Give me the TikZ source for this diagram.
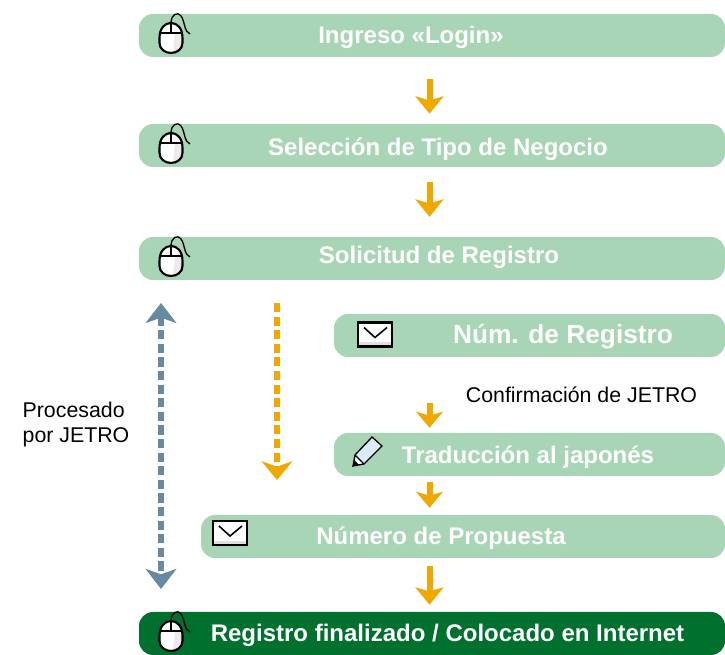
\documentclass[tikz,border=0pt]{standalone}
\usepackage{fontspec}
\setmainfont{Liberation Sans}
\usetikzlibrary{arrows.meta}

\definecolor{barGreen}{HTML}{A8D5B5}
\definecolor{barDark}{HTML}{00702E}
\definecolor{arrowOrange}{HTML}{F0A800}
\definecolor{arrowBlue}{HTML}{6789A1}
\definecolor{pencilBlue}{HTML}{DCEBFA}

\tikzset{
    bar/.style={fill=barGreen, rounded corners=10.5pt, minimum height=32.25pt, inner sep=0pt, minimum width=#1*0.75pt},
    barlabel/.style={text=white, font=\fontsize{18}{21}\selectfont\bfseries, inner sep=0pt},
    note/.style={font=\fontsize{16}{19}\selectfont, inner sep=0pt, align=left},
    flow/.style={arrowOrange, line width=4.5pt, -{Stealth[length=13pt, width=21pt, inset=3pt]}},
    flowsmall/.style={arrowOrange, line width=4.5pt, -{Stealth[length=12pt, width=20pt, inset=3pt]}},
    longflow/.style={line width=4.5pt, dash pattern=on 6.8pt off 3.4pt},
    mouseicon/.pic={
        \fill[white] (-11.5,0) .. controls (-11.5,-10) and (-6,-15) .. (0,-15) .. controls (6,-15) and (11.5,-10) .. (11.5,0)
            -- (11.5,5) .. controls (11.5,11) and (6,15) .. (0,15) .. controls (-6,15) and (-11.5,11) .. (-11.5,5) -- cycle;
        \fill[black!8] (4,-5) -- (11.5,-5) -- (11.5,5) .. controls (11.5,11) and (6,15) .. (2,14.5) -- cycle;
        \draw[black, line width=1.6pt] (-11.5,0) .. controls (-11.5,-10) and (-6,-15) .. (0,-15) .. controls (6,-15) and (11.5,-10) .. (11.5,0)
            -- (11.5,5) .. controls (11.5,11) and (6,15) .. (0,15) .. controls (-6,15) and (-11.5,11) .. (-11.5,5) -- cycle;
        \draw[black, line width=1.3pt] (-11.5,-5) -- (11.5,-5) (0,-15) -- (0,-5);
        % Wire
        \draw[black, line width=1pt] (0,-15) .. controls (0,-23) and (6,-27) .. (10,-22) .. controls (14,-17) and (13,-6) .. (19,-4);
    },
    envelopeicon/.pic={
        \fill[white] (-17,-12) rectangle (17,12);
        \fill[black!12] (-17,8) rectangle (17,12);
        \draw[black, line width=1.6pt] (-17,-12) rectangle (17,12);
        \draw[black, line width=1.2pt] (-11,-7) -- (0,3) -- (12,-7);
    },
    pencilicon/.pic={
        \fill[white] (0,0) -- (2,-11) -- (13,-5) -- (11,-2) -- cycle;
        \fill[pencilBlue] (2,-11) -- (19,-29) -- (29,-20) -- (11,-2) -- cycle;
        \fill[black] (0,0) -- (1,-6) -- (6,-1) -- cycle;
        \draw[black, line width=1pt] (0,0) -- (2,-11) -- (19,-29) -- (29,-20) -- (11,-2) -- cycle (2,-11) -- (11,-2);
    },
}

\begin{document}
\begin{tikzpicture}[x=0.75pt, y=-0.75pt]
    \useasboundingbox (0,0) rectangle (725,655);
    % Bars
    \node[bar=586] (login) at (432,35.5) {};
    \node[bar=586] (negocio) at (432,145.5) {};
    \node[bar=586] (solicitud) at (432,258.5) {};
    \node[bar=391] (numreg) at (529.5,335.5) {};
    \node[bar=391] (traduccion) at (529.5,454.5) {};
    \node[bar=524] (propuesta) at (463,536.5) {};
    \node[bar=586, fill=barDark] (final) at (432,633.5) {};
    % Bar labels
    \node[barlabel] (loginText) at (411,37) {Ingreso «Login»};
    \node[barlabel] (negocioText) at (438,149.5) {Selección de Tipo de Negocio};
    \node[barlabel] (solicitudText) at (439,257.5) {Solicitud de Registro};
    \node[barlabel, font=\fontsize{19.7}{23}\selectfont\bfseries] (numregText) at (563,337) {Núm. de Registro};
    \node[barlabel] (traduccionText) at (528,457) {Traducción al japonés};
    \node[barlabel] (propuestaText) at (441,538) {Número de Propuesta};
    \node[barlabel] (finalText) at (447.5,635) {Registro finalizado / Colocado en Internet};
    % Notes
    \node[note] (confirmacion) at (581.5,395) {Confirmación de JETRO};
    \node[note] (procesado) at (76,424.5) {Procesado\\por JETRO};
    % Icons
    \pic at (171,38) {mouseicon};
    \pic at (171,148) {mouseicon};
    \pic at (171,261) {mouseicon};
    \pic at (171,636) {mouseicon};
    \pic at (375,334.5) {envelopeicon};
    \pic at (230,533) {envelopeicon};
    \pic at (353,466) {pencilicon};
    % Arrows
    \coordinate (midline) at (429.5,0);
    \draw[flow, shorten <=16.5pt, shorten >=7.5pt] (login.south -| midline) -- (negocio.north -| midline);
    \draw[flow, shorten <=11.25pt, shorten >=15pt] (negocio.south -| midline) -- (solicitud.north -| midline);
    \draw[flowsmall, shorten <=0pt, shorten >=3.75pt] (midline |- confirmacion.south) -- (traduccion.north -| midline);
    \draw[flowsmall, shorten <=4.5pt, shorten >=5.25pt] (traduccion.south -| midline) -- (propuesta.north -| midline);
    \draw[flow, shorten <=6pt, shorten >=5.25pt] (propuesta.south -| midline) -- (final.north -| midline);
    % Long dashed arrows
    \coordinate (orangeTop) at (277,303);
    \coordinate (orangeEnd) at (277,480);
    \coordinate (blueTop) at (161,303);
    \coordinate (blueEnd) at (161,589);
    \draw[longflow, arrowOrange, -{Stealth[length=14pt, width=23pt, inset=4pt]}] (orangeTop) -- (orangeEnd);
    \draw[longflow, arrowBlue, {Stealth[length=15pt, width=23pt, inset=4pt]}-{Stealth[length=15pt, width=23pt, inset=4pt]}] (blueTop) -- (blueEnd);
\end{tikzpicture}
\end{document}
